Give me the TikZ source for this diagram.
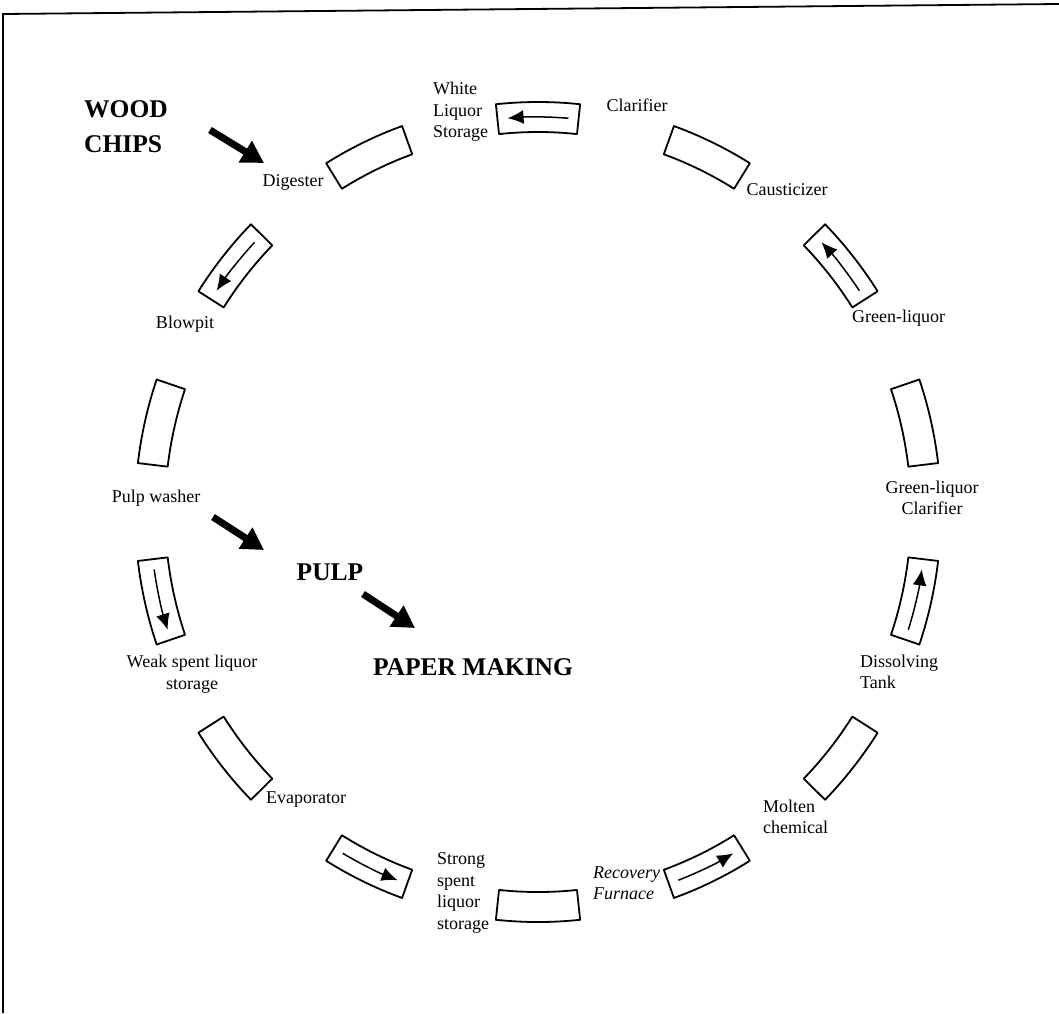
\documentclass[tikz,border=0pt]{standalone}
\usepackage{fontspec}
\setmainfont{Liberation Serif}
\usetikzlibrary{arrows.meta}
\begin{document}
\begin{tikzpicture}[x=1pt,y=1pt,
  lbl/.style={inner sep=0pt, font=\fontsize{18}{21.5}\selectfont},
  big/.style={inner sep=0pt, font=\fontsize{25.5}{35}\selectfont\bfseries},
  seg/.style={draw=black, line width=1.8pt, line join=round},
  flow/.style={line width=1.5pt, -{Latex[length=16pt,width=14pt]}},
  bigarrow/.style={line width=7pt, -{Triangle[length=22pt,width=24pt]}},
  frame/.style={line width=1.8pt}]
\useasboundingbox (0,0) rectangle (1059,-1013);
\coordinate (f1) at (3,-1013);
\coordinate (f2) at (3,-14);
\coordinate (f3) at (1059,-4);
\draw[frame] (f1) -- (f2) -- (f3);
\coordinate (C) at (538,-512);
% segments of the ring
\foreach \k in {0,...,13}{
  \pgfmathsetmacro{\a}{90-\k*360/14}
  \pgfmathsetmacro{\aa}{\a-6}
  \pgfmathsetmacro{\ab}{\a+6}
  \draw[seg,shift={(C)}] (\aa:373pt and 380pt) arc[start angle=\aa, end angle=\ab, x radius=373pt, y radius=380pt] -- (\ab:403pt and 410pt) arc[start angle=\ab, end angle=\aa, x radius=403pt, y radius=410pt] -- cycle;
}
% flow arrows inside every other segment
\foreach \k in {0,2,...,12}{
  \pgfmathsetmacro{\a}{90-\k*360/14}
  \pgfmathsetmacro{\ta}{\a-4.5}
  \pgfmathsetmacro{\tb}{\a+4.5}
  \draw[flow,shift={(C)}] (\ta:388pt and 395pt) arc[start angle=\ta, end angle=\tb, x radius=388pt, y radius=395pt];
}
% labels
\node[lbl, align=left, anchor=west] (wls) at (433,-112) {White\\Liquor\\Storage};
\node[lbl] (cla) at (637,-105) {Clarifier};
\node[lbl] (cau) at (787,-190) {Causticizer};
\node[lbl, anchor=west] (gl) at (852,-318) {Green-liquor};
\node[lbl, align=center] (glc) at (932,-498) {Green-liquor\\Clarifier};
\node[lbl, align=left, anchor=west] (dt) at (860,-672) {Dissolving\\Tank};
\node[lbl, align=left, anchor=west] (mc) at (763,-817) {Molten\\chemical};
\node[lbl, align=left, anchor=west, font=\fontsize{18}{21.5}\selectfont\itshape] (rf) at (593,-883) {Recovery\\Furnace};
\node[lbl, align=left, anchor=west] (ssl) at (437,-893) {Strong\\spent\\liquor\\storage};
\node[lbl, anchor=west] (eva) at (266,-800) {Evaporator};
\node[lbl, align=center] (wsl) at (192,-674) {Weak spent liquor\\storage};
\node[lbl] (pw) at (156,-498) {Pulp washer};
\node[lbl] (bp) at (185,-324) {Blowpit};
\node[lbl] (dig) at (293,-182) {Digester};
\node[big, align=left, anchor=east] (wc) at (168,-127) {WOOD\\CHIPS};
\node[big] (pulp) at (330,-572) {PULP};
\node[big] (pm) at (473,-667) {PAPER MAKING};
% big arrows
\coordinate (a1s) at (210,-130);
\coordinate (a1e) at (264,-163);
\coordinate (a2s) at (213,-517);
\coordinate (a2e) at (264,-550);
\coordinate (a3s) at (363,-594);
\coordinate (a3e) at (415,-628);
\draw[bigarrow] (a1s) -- (a1e);
\draw[bigarrow] (a2s) -- (a2e);
\draw[bigarrow] (a3s) -- (a3e);
\end{tikzpicture}
\end{document}
